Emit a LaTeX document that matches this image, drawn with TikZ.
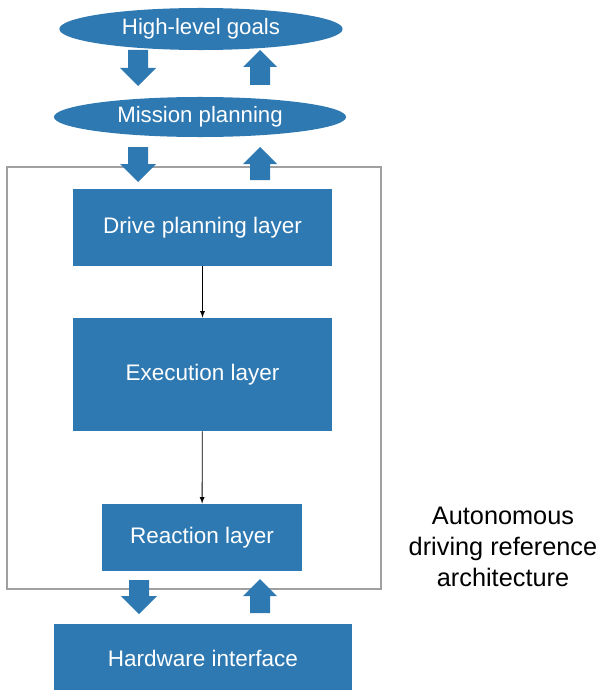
\documentclass[tikz,border=0pt]{standalone}
\usepackage{fontspec}
\setmainfont{Liberation Sans}
\usetikzlibrary{positioning,shapes,arrows}
\definecolor{layerblue}{RGB}{47,121,178}
\definecolor{framegray}{RGB}{160,160,160}
\tikzset{
  goal/.style={ellipse, fill=layerblue, text=white, inner sep=0pt, font=\fontsize{15.8}{18}\selectfont},
  layer/.style={rectangle, fill=layerblue, text=white, inner sep=0pt, font=\fontsize{16}{19}\selectfont},
  flow/.style={-latex, line width=0.6pt}
}
% fat block arrows, in px: centre x, tail y, tip y
\newcommand{\fatdown}[3]{\fill[layerblue] (#1-10,#2) -- (#1+10,#2) -- (#1+10,#3-18) -- (#1+18,#3-18) -- (#1,#3) -- (#1-18,#3-18) -- (#1-10,#3-18) -- cycle;}
\newcommand{\fatup}[3]{\fill[layerblue] (#1-10,#2) -- (#1+10,#2) -- (#1+10,#3+17) -- (#1+17,#3+17) -- (#1,#3) -- (#1-17,#3+17) -- (#1-10,#3+17) -- cycle;}
\begin{document}
\begin{tikzpicture}[x=0.025cm, y=-0.025cm]
\useasboundingbox (0,0) rectangle (600,690);
\begin{scope}
\clip (0,0) rectangle (600,690);
\draw[framegray, line width=0.9pt] (7,167) rectangle (381,589);
\node[goal, minimum width=7.08cm, minimum height=1.05cm] (ngoals) at (201,29) {High-level goals};
\node[goal, minimum width=7.3cm, minimum height=1.0cm] (nmission) at (200,117) {Mission planning};
\node[layer, minimum width=6.48cm, minimum height=1.93cm] (ndrive) at (202.5,227.5) {Drive planning layer};
\node[layer, minimum width=6.48cm, minimum height=2.83cm] (nexec) at (202.5,374.5) {Execution layer};
\node[layer, minimum width=5.0cm, minimum height=1.68cm] (nreact) at (202,537.5) {Reaction layer};
\node[layer, minimum width=7.45cm, minimum height=1.7cm] (nhw) at (203,658) {Hardware interface};
\node[align=center, font=\fontsize{18}{22}\selectfont] (narch) at (503,547) {Autonomous\\driving reference\\architecture};
\path (ndrive) edge[flow] (nexec)
(nexec) edge[flow] (nreact);
\fatdown{138}{50}{86}
\fatup{260}{85}{50}
\fatdown{138}{147}{182}
\fatup{260}{180}{147}
\fatdown{139}{580}{614}
\fatup{260}{613}{579}
\end{scope}
\end{tikzpicture}
\end{document}
